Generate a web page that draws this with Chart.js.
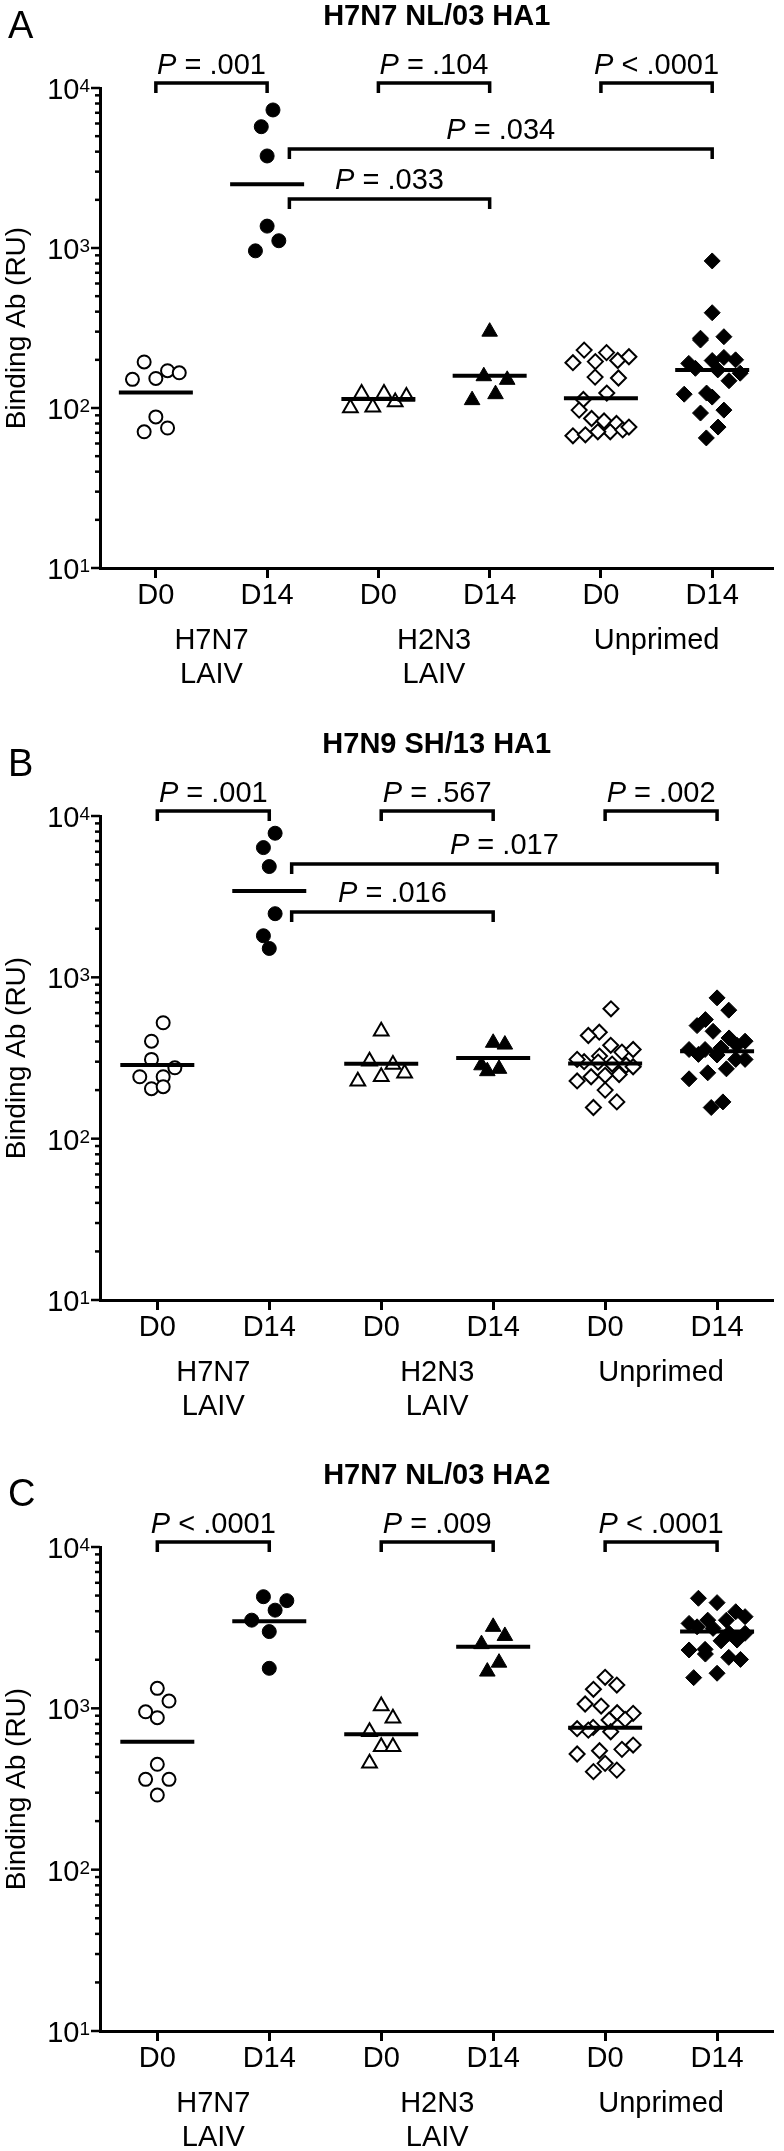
<!DOCTYPE html>
<html>
<head>
<meta charset="utf-8">
<title>Binding Ab</title>
<script src="https://cdn.jsdelivr.net/npm/chart.js@4.4.1/dist/chart.umd.min.js"></script>
<style>
  body { margin: 0; background: #fff; }
  #wrap { position: relative; width: 784px; height: 2151px; }
  canvas { position: absolute; left: 0; }
</style>
</head>
<body>
<div id="wrap">
  <canvas id="chartA" width="784" height="728" style="top:0px"></canvas>
  <canvas id="chartB" width="784" height="731" style="top:728px"></canvas>
  <canvas id="chartC" width="784" height="692" style="top:1459px"></canvas>
</div>
<script>
// categories / groups
const categories = ["D0", "D14", "D0", "D14", "D0", "D14"];
const groupLabels = [["H7N7", "LAIV"], ["H2N3", "LAIV"], ["Unprimed"]];
const yTickValues = [10, 100, 1000, 10000];
const yTickExponents = ["1", "2", "3", "4"];

// panel A - H7N7 NL/03 HA1
const a_h7n7_d0 = [153, 171, 151, 194, 166, 88, 71, 75];
const a_h7n7_d14 = [7290, 5730, 3760, 1370, 1110, 960];
const a_h2n3_d0 = [123, 109, 100, 118, 101, 123];
const a_h2n3_d14 = [300, 150, 158, 112, 122];
const a_unpr_d0 = [230, 222, 195, 198, 209, 192, 154, 156, 113, 124, 97, 86, 83, 80, 71, 73, 67, 76, 71, 68];
const a_unpr_d14 = [830, 394, 273, 266, 279, 200, 207, 198, 190, 173, 177, 165, 148, 122, 124, 117, 97, 93, 76, 65];
const a_means = [125, 2500, 114, 159, 115, 173];
const a_pTop = ["= .001", "= .104", "< .0001"];
const a_pCross = ["= .034", "= .033"];

// panel B - H7N9 SH/13 HA1
const b_h7n7_d0 = [523, 402, 310, 275, 242, 242, 204, 210];
const b_h7n7_d14 = [7820, 6370, 4860, 2480, 1810, 1510];
const b_h2n3_d0 = [463, 302, 288, 254, 227, 242];
const b_h2n3_d14 = [393, 383, 285, 262, 271];
const b_unpr_d0 = [638, 457, 436, 379, 344, 357, 285, 325, 279, 298, 242, 250, 228, 247, 200, 156, 169, 300, 290, 310];
const b_unpr_d14 = [746, 626, 547, 502, 463, 421, 402, 357, 357, 379, 310, 310, 333, 256, 271, 235, 156, 169, 365, 330];
const b_means = [286, 3430, 291, 316, 292, 348];
const b_pTop = ["= .001", "= .567", "= .002"];
const b_pCross = ["= .017", "= .016"];

// panel C - H7N7 NL/03 HA2
const c_h7n7_d0 = [1330, 1110, 875, 952, 450, 363, 363, 290];
const c_h7n7_d14 = [4650, 4920, 4060, 3520, 2990, 1770];
const c_h2n3_d0 = [1033, 867, 716, 578, 578, 456];
const c_h2n3_d14 = [3200, 2810, 2500, 1920, 1690];
const c_unpr_d0 = [1557, 1394, 1312, 1064, 1033, 931, 940, 846, 854, 716, 762, 733, 546, 592, 521, 557, 456, 405, 414, 748];
const c_unpr_d14 = [4810, 4520, 3970, 3700, 3520, 3520, 3360, 3200, 3130, 2920, 2920, 2650, 2620, 2320, 2300, 2170, 2070, 2010, 1650, 1550];
const c_means = [621, 3470, 690, 2410, 759, 2990];
const c_pTop = ["< .0001", "= .009", "< .0001"];

const FONT = "'Liberation Sans', Arial, Helvetica, sans-serif";

const markerStyles = [
  { pointStyle: "circle", radius: 6.5, fill: "#fff", border: 2 },
  { pointStyle: "circle", radius: 7, fill: "#000", border: 1 },
  { pointStyle: "triangle", radius: 8.5, fill: "#fff", border: 2 },
  { pointStyle: "triangle", radius: 9, fill: "#000", border: 1 },
  { pointStyle: "rectRot", radius: 7.5, fill: "#fff", border: 2 },
  { pointStyle: "rectRot", radius: 8, fill: "#000", border: 1 },
];

const panels = [
  {
    id: "chartA", letter: "A", title: "H7N7 NL/03 HA1",
    series: [a_h7n7_d0, a_h7n7_d14, a_h2n3_d0, a_h2n3_d14, a_unpr_d0, a_unpr_d14],
    means: a_means, pTop: a_pTop, pCross: a_pCross,
    letterY: 38, plotBottom: 568, xMin: 0.498, xMax: 6.551, crossY: [149, 199],
  },
  {
    id: "chartB", letter: "B", title: "H7N9 SH/13 HA1",
    series: [b_h7n7_d0, b_h7n7_d14, b_h2n3_d0, b_h2n3_d14, b_unpr_d0, b_unpr_d14],
    means: b_means, pTop: b_pTop, pCross: b_pCross,
    letterY: 48, plotBottom: 572, xMin: 0.488, xMax: 6.504, crossY: [136, 184],
  },
  {
    id: "chartC", letter: "C", title: "H7N7 NL/03 HA2",
    series: [c_h7n7_d0, c_h7n7_d14, c_h2n3_d0, c_h2n3_d14, c_unpr_d0, c_unpr_d14],
    means: c_means, pTop: c_pTop, pCross: [],
    letterY: 47, plotBottom: 572, xMin: 0.488, xMax: 6.504, crossY: [],
  },
];

// cross comparisons: from D14 of H7N7 to D14 of other groups
const crossPairs = [[2.2, 6], [2.2, 4]];

function drawPText(ctx, text, cx, baseY) {
  ctx.textAlign = "left";
  ctx.textBaseline = "alphabetic";
  ctx.font = "italic 29px " + FONT;
  const pW = ctx.measureText("P").width;
  ctx.font = "29px " + FONT;
  const rest = " " + text;
  const rW = ctx.measureText(rest).width;
  const x0 = cx - (pW + rW) / 2;
  ctx.font = "italic 29px " + FONT;
  ctx.fillText("P", x0, baseY);
  ctx.font = "29px " + FONT;
  ctx.fillText(rest, x0 + pW, baseY);
}

function drawBracket(ctx, x1, x2, y) {
  ctx.beginPath();
  ctx.moveTo(x1, y + 10);
  ctx.lineTo(x1, y);
  ctx.lineTo(x2, y);
  ctx.lineTo(x2, y + 10);
  ctx.stroke();
}

// column scatter: points close in height share a row and get spread sideways
function columnScatter(values, yScale) {
  const pts = values.map((v, i) => ({ i: i, py: yScale.getPixelForValue(v) }));
  const sorted = pts.slice().sort((a, b) => a.py - b.py);
  const offs = new Array(values.length).fill(0);
  let k = 0;
  while (k < sorted.length) {
    const start = sorted[k].py;
    const bin = [];
    while (k < sorted.length && sorted[k].py - start < 26) bin.push(sorted[k++]);
    const n = bin.length;
    const step = n > 1 ? Math.min(11.7, 56 / (n - 1)) : 0;
    // zigzag: higher points in odd slots, lower ones in even slots
    const slots = [];
    for (let s = 1; s < n; s += 2) slots.push(s);
    for (let s = n % 2 === 0 ? n - 2 : n - 1; s >= 0; s -= 2) slots.push(s);
    bin.forEach((p, j) => { offs[p.i] = (slots[j] - (n - 1) / 2) * step; });
  }
  return offs;
}

const decorPlugin = {
  id: "decor",
  afterDatasetsDraw(chart) {
    const cfg = chart.options.plugins.decor;
    const ctx = chart.ctx;
    const area = chart.chartArea;
    const xs = chart.scales.x;
    const ys = chart.scales.y;
    ctx.save();
    ctx.fillStyle = "#000";
    ctx.strokeStyle = "#000";

    // mean lines
    ctx.lineWidth = 4;
    cfg.means.forEach((m, i) => {
      const cx = xs.getPixelForValue(i + 1);
      const py = ys.getPixelForValue(m);
      ctx.beginPath();
      ctx.moveTo(cx - 37, py);
      ctx.lineTo(cx + 37, py);
      ctx.stroke();
    });

    // y ticks, major and minor
    ctx.lineWidth = 2.5;
    for (let e = 1; e <= 4; e++) {
      const last = e === 4 ? 1 : 9;
      for (let s = 1; s <= last; s++) {
        const py = ys.getPixelForValue(s * Math.pow(10, e));
        const len = s === 1 ? 9 : 5;
        ctx.beginPath();
        ctx.moveTo(area.left - len, py);
        ctx.lineTo(area.left, py);
        ctx.stroke();
      }
    }
    // y tick labels 10^n
    ctx.textBaseline = "alphabetic";
    ctx.textAlign = "right";
    yTickValues.forEach((v, i) => {
      const py = ys.getPixelForValue(v);
      ctx.font = "19px " + FONT;
      const ew = ctx.measureText(yTickExponents[i]).width;
      ctx.fillText(yTickExponents[i], 90, py + 4);
      ctx.font = "29px " + FONT;
      ctx.fillText("10", 90 - ew, py + 11);
    });

    // group labels under the axis
    ctx.textAlign = "center";
    ctx.textBaseline = "middle";
    ctx.font = "29px " + FONT;
    groupLabels.forEach((lines, g) => {
      const cx = (xs.getPixelForValue(2 * g + 1) + xs.getPixelForValue(2 * g + 2)) / 2;
      lines.forEach((t, k) => {
        ctx.fillText(t, cx, area.bottom + 73 + k * 34);
      });
    });

    // title and panel letter
    ctx.textBaseline = "alphabetic";
    ctx.font = "bold 29px " + FONT;
    ctx.fillText(cfg.title, (area.left + area.right) / 2, 25);
    ctx.textAlign = "left";
    ctx.font = "38px " + FONT;
    ctx.fillText(cfg.letter, 8, cfg.letterY);

    // P value brackets
    ctx.lineWidth = 3.5;
    ctx.lineJoin = "miter";
    cfg.pTop.forEach((t, g) => {
      const x1 = xs.getPixelForValue(2 * g + 1);
      const x2 = xs.getPixelForValue(2 * g + 2);
      const y = area.top - 5;
      drawBracket(ctx, x1, x2, y);
      drawPText(ctx, t, (x1 + x2) / 2, y - 9);
    });
    cfg.pCross.forEach((t, k) => {
      const x1 = xs.getPixelForValue(crossPairs[k][0]);
      const x2 = xs.getPixelForValue(crossPairs[k][1]);
      const y = cfg.crossY[k];
      drawBracket(ctx, x1, x2, y);
      drawPText(ctx, t, (x1 + x2) / 2, y - 10);
    });
    ctx.restore();
  },
};

function makeChart(p) {
  const canvas = document.getElementById(p.id);
  const H = canvas.height;
  const datasets = p.series.map((vals, i) => ({
    data: vals.map((v) => ({ x: i + 1, y: v })),
    pointStyle: markerStyles[i].pointStyle,
    pointRadius: markerStyles[i].radius,
    pointBackgroundColor: markerStyles[i].fill,
    pointBorderColor: "#000",
    pointBorderWidth: markerStyles[i].border,
    showLine: false,
    clip: false,
  }));
  const chart = new Chart(canvas.getContext("2d"), {
    type: "scatter",
    data: { datasets: datasets },
    options: {
      responsive: false,
      animation: false,
      devicePixelRatio: 1,
      events: [],
      layout: { padding: { top: 88, right: 2, left: 0, bottom: 0 } },
      plugins: {
        legend: { display: false },
        tooltip: { enabled: false },
        decor: { means: p.means, pTop: p.pTop, pCross: p.pCross, crossY: p.crossY, title: p.title, letter: p.letter, letterY: p.letterY },
      },
      scales: {
        x: {
          type: "linear",
          min: p.xMin,
          max: p.xMax,
          afterBuildTicks: (s) => { s.ticks = categories.map((c, i) => ({ value: i + 1 })); },
          afterFit: (s) => { s.height = H - p.plotBottom; },
          ticks: {
            callback: (v) => categories[v - 1],
            font: { family: FONT, size: 29 },
            color: "#000",
            padding: 1,
            maxRotation: 0,
            autoSkip: false,
          },
          grid: { display: true, drawOnChartArea: false, drawTicks: true, tickLength: 10, tickWidth: 3, tickColor: "#000" },
          border: { display: true, color: "#000", width: 3 },
        },
        y: {
          type: "logarithmic",
          min: 10,
          max: 10000,
          afterFit: (s) => { s.width = 100; },
          ticks: { display: false },
          grid: { display: false },
          border: { display: true, color: "#000", width: 3 },
          title: { display: true, text: "Binding Ab (RU)", font: { family: FONT, size: 28 }, color: "#000", padding: 0 },
        },
      },
    },
    plugins: [decorPlugin],
  });

  // spread points sideways now that the scales exist
  const xs = chart.scales.x;
  const ys = chart.scales.y;
  const unit = xs.getPixelForValue(2) - xs.getPixelForValue(1);
  chart.data.datasets.forEach((ds, i) => {
    const offs = columnScatter(p.series[i], ys);
    ds.data = p.series[i].map((v, k) => ({ x: i + 1 + offs[k] / unit, y: v }));
  });
  chart.update("none");
  return chart;
}

panels.forEach(makeChart);
</script>
</body>
</html>
